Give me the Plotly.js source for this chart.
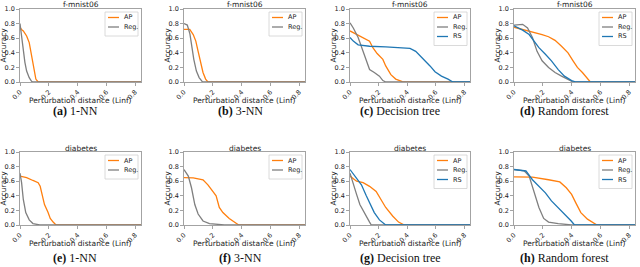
<!DOCTYPE html>
<html><head><meta charset="utf-8">
<script src="https://cdn.plot.ly/plotly-3.0.1.min.js"></script>
<style>html,body{margin:0;padding:0;background:#fff}#chart{width:640px;height:267px}</style>
</head><body><div id="chart"></div>
<script>
// ---- data ----
const xTicks = [0, 0.2, 0.4, 0.6, 0.8];
const xTickLabels = ['0.0', '0.2', '0.4', '0.6', '0.8'];
const yTicks = [0, 0.2, 0.4, 0.6, 0.8, 1.0];
const yTickLabels = ['0.0', '0.2', '0.4', '0.6', '0.8', '1.0'];
const datasets = ['f-mnist06', 'f-mnist06', 'f-mnist06', 'f-mnist06', 'diabetes', 'diabetes', 'diabetes', 'diabetes'];
const captions = ['(a)|1-NN', '(b)|3-NN', '(c)|Decision tree', '(d)|Random forest', '(e)|1-NN', '(f)|3-NN', '(g)|Decision tree', '(h)|Random forest'];
const seriesNames = ['AP', 'Reg.', 'RS'];

const fm_1nn_ap_x = [0, 0.01, 0.023, 0.046, 0.064, 0.08, 0.091, 0.11, 0.126, 0.84];
const fm_1nn_ap_y = [0.75, 0.72, 0.70, 0.63, 0.54, 0.38, 0.22, 0.04, 0, 0];
const fm_1nn_reg_x = [0, 0.011, 0.023, 0.034, 0.046, 0.064, 0.08, 0.091, 0.84];
const fm_1nn_reg_y = [0.80, 0.60, 0.42, 0.27, 0.15, 0.06, 0.01, 0, 0];

const fm_3nn_ap_x = [0, 0.04, 0.064, 0.082, 0.098, 0.114, 0.132, 0.15, 0.166, 0.84];
const fm_3nn_ap_y = [0.72, 0.72, 0.65, 0.56, 0.42, 0.29, 0.13, 0.04, 0, 0];
const fm_3nn_reg_x = [0, 0.023, 0.041, 0.055, 0.068, 0.086, 0.105, 0.127, 0.14, 0.84];
const fm_3nn_reg_y = [0.80, 0.78, 0.66, 0.47, 0.31, 0.15, 0.06, 0.005, 0, 0];

const fm_dt_ap_x = [0, 0.046, 0.092, 0.137, 0.16, 0.19, 0.23, 0.25, 0.286, 0.32, 0.366, 0.4, 0.84];
const fm_dt_ap_y = [0.70, 0.65, 0.61, 0.56, 0.47, 0.39, 0.31, 0.22, 0.10, 0.04, 0.005, 0, 0];
const fm_dt_reg_x = [0, 0.023, 0.057, 0.092, 0.114, 0.137, 0.17, 0.206, 0.23, 0.25, 0.84];
const fm_dt_reg_y = [0.81, 0.74, 0.61, 0.42, 0.29, 0.17, 0.13, 0.08, 0.02, 0, 0];
const fm_dt_rs_x = [0, 0.023, 0.057, 0.137, 0.25, 0.34, 0.42, 0.46, 0.49, 0.53, 0.56, 0.595, 0.64, 0.686, 0.72, 0.84];
const fm_dt_rs_y = [0.61, 0.56, 0.51, 0.49, 0.48, 0.47, 0.46, 0.42, 0.36, 0.29, 0.22, 0.14, 0.08, 0.04, 0, 0];

const fm_rf_ap_x = [0, 0.06, 0.128, 0.195, 0.24, 0.285, 0.33, 0.375, 0.41, 0.44, 0.475, 0.51, 0.53, 0.84];
const fm_rf_ap_y = [0.75, 0.72, 0.69, 0.65, 0.62, 0.57, 0.49, 0.40, 0.29, 0.20, 0.13, 0.05, 0, 0];
const fm_rf_reg_x = [0, 0.06, 0.094, 0.128, 0.16, 0.195, 0.24, 0.285, 0.33, 0.375, 0.41, 0.84];
const fm_rf_reg_y = [0.78, 0.79, 0.74, 0.61, 0.42, 0.29, 0.20, 0.13, 0.08, 0.03, 0, 0];
const fm_rf_rs_x = [0, 0.06, 0.105, 0.14, 0.173, 0.218, 0.26, 0.307, 0.35, 0.40, 0.43, 0.84];
const fm_rf_rs_y = [0.77, 0.71, 0.65, 0.56, 0.47, 0.38, 0.29, 0.17, 0.08, 0.02, 0, 0];

const db_1nn_ap_x = [0, 0.046, 0.09, 0.126, 0.14, 0.155, 0.17, 0.195, 0.21, 0.23, 0.25, 0.84];
const db_1nn_ap_y = [0.67, 0.65, 0.61, 0.58, 0.53, 0.42, 0.28, 0.17, 0.09, 0.04, 0, 0];
const db_1nn_reg_x = [0, 0.011, 0.023, 0.04, 0.064, 0.09, 0.137, 0.84];
const db_1nn_reg_y = [0.71, 0.58, 0.35, 0.17, 0.07, 0.02, 0, 0];

const db_3nn_ap_x = [0, 0.064, 0.132, 0.166, 0.2, 0.223, 0.245, 0.27, 0.314, 0.36, 0.38, 0.84];
const db_3nn_ap_y = [0.65, 0.645, 0.62, 0.55, 0.46, 0.40, 0.24, 0.17, 0.09, 0.03, 0, 0];
const db_3nn_reg_x = [0, 0.03, 0.052, 0.075, 0.098, 0.132, 0.177, 0.22, 0.27, 0.28, 0.84];
const db_3nn_reg_y = [0.76, 0.67, 0.51, 0.28, 0.15, 0.055, 0.02, 0.01, 0.005, 0, 0];

const db_dt_ap_x = [0, 0.046, 0.092, 0.137, 0.183, 0.217, 0.25, 0.3, 0.34, 0.38, 0.84];
const db_dt_ap_y = [0.67, 0.60, 0.58, 0.53, 0.46, 0.35, 0.24, 0.12, 0.04, 0, 0];
const db_dt_reg_x = [0, 0.023, 0.046, 0.069, 0.103, 0.137, 0.149, 0.84];
const db_dt_reg_y = [0.71, 0.58, 0.42, 0.28, 0.15, 0.04, 0, 0];
const db_dt_rs_x = [0, 0.046, 0.08, 0.114, 0.137, 0.17, 0.206, 0.25, 0.84];
const db_dt_rs_y = [0.76, 0.645, 0.55, 0.40, 0.30, 0.17, 0.07, 0, 0];

const db_rf_ap_x = [0, 0.128, 0.24, 0.318, 0.363, 0.40, 0.43, 0.464, 0.51, 0.554, 0.576, 0.84];
const db_rf_ap_y = [0.66, 0.655, 0.62, 0.59, 0.51, 0.42, 0.30, 0.17, 0.08, 0.02, 0, 0];
const db_rf_reg_x = [0, 0.072, 0.105, 0.139, 0.173, 0.206, 0.24, 0.307, 0.374, 0.40, 0.84];
const db_rf_reg_y = [0.76, 0.74, 0.67, 0.46, 0.24, 0.09, 0.04, 0.02, 0.005, 0, 0];
const db_rf_rs_x = [0, 0.083, 0.128, 0.173, 0.218, 0.26, 0.307, 0.35, 0.397, 0.42, 0.84];
const db_rf_rs_y = [0.76, 0.74, 0.62, 0.53, 0.44, 0.33, 0.24, 0.15, 0.055, 0, 0];

// ---- assembly ----
const panelSeries = [
  [[fm_1nn_ap_x, fm_1nn_ap_y], [fm_1nn_reg_x, fm_1nn_reg_y]],
  [[fm_3nn_ap_x, fm_3nn_ap_y], [fm_3nn_reg_x, fm_3nn_reg_y]],
  [[fm_dt_ap_x, fm_dt_ap_y], [fm_dt_reg_x, fm_dt_reg_y], [fm_dt_rs_x, fm_dt_rs_y]],
  [[fm_rf_ap_x, fm_rf_ap_y], [fm_rf_reg_x, fm_rf_reg_y], [fm_rf_rs_x, fm_rf_rs_y]],
  [[db_1nn_ap_x, db_1nn_ap_y], [db_1nn_reg_x, db_1nn_reg_y]],
  [[db_3nn_ap_x, db_3nn_ap_y], [db_3nn_reg_x, db_3nn_reg_y]],
  [[db_dt_ap_x, db_dt_ap_y], [db_dt_reg_x, db_dt_reg_y], [db_dt_rs_x, db_dt_rs_y]],
  [[db_rf_ap_x, db_rf_ap_y], [db_rf_reg_x, db_rf_reg_y], [db_rf_rs_x, db_rf_rs_y]]
];
const colors = ['#ff7f0e', '#7f7f7f', '#1f77b4'];
const W = 640, H = 267;
const colPx = [[20, 141], [184, 305], [350, 470], [514, 635]];
const rowPx = [[9, 82], [152, 225]];
const capXPx = [75, 240, 400, 564];
const capYPx = [111, 258];
const sans = 'DejaVu Sans, sans-serif';
const serif = 'Liberation Serif, DejaVu Serif, serif';
const lineCol = '#8c8c8c';

const traces = [], shapes = [], annotations = [];
const layout = {
  width: W, height: H, margin: {l: 0, r: 0, t: 0, b: 0},
  paper_bgcolor: '#fff', plot_bgcolor: '#fff', showlegend: false,
  font: {family: sans, color: '#222'}
};

for (let i = 0; i < 8; i++) {
  const r = Math.floor(i / 4), c = i % 4, n = i + 1;
  const xa = 'xaxis' + (n === 1 ? '' : n), ya = 'yaxis' + (n === 1 ? '' : n);
  const xr = 'x' + (n === 1 ? '' : n), yr = 'y' + (n === 1 ? '' : n);
  const pw = colPx[c][1] - colPx[c][0], ph = rowPx[r][1] - rowPx[r][0];
  const common = {showline: true, mirror: true, linecolor: lineCol, linewidth: 0.8,
    ticks: 'outside', ticklen: 3, tickwidth: 0.8, tickcolor: lineCol,
    showgrid: false, zeroline: false, fixedrange: true,
    tickfont: {size: 6.5, family: sans, color: '#222'}};
  layout[xa] = Object.assign({}, common, {
    domain: [colPx[c][0] / W, colPx[c][1] / W], anchor: yr,
    range: [0, 0.84], tickvals: xTicks, ticktext: xTickLabels, tickangle: -45});
  layout[ya] = Object.assign({}, common, {
    domain: [1 - rowPx[r][1] / H, 1 - rowPx[r][0] / H], anchor: xr,
    range: [0, 1], tickvals: yTicks, ticktext: yTickLabels});

  panelSeries[i].forEach((s, k) => {
    traces.push({x: s[0], y: s[1], xaxis: xr, yaxis: yr, type: 'scatter', mode: 'lines',
      name: seriesNames[k], line: {color: colors[k], width: 1.3}, hoverinfo: 'skip'});
  });

  const xd = xr + ' domain', yd = yr + ' domain';
  // subplot title
  annotations.push({xref: xd, yref: yd, x: 0.5, y: 1, yanchor: 'middle', xanchor: 'center',
    yshift: 4, borderpad: 0, showarrow: false, text: datasets[i], font: {size: 7.5, family: sans, color: '#222'}});
  // axis titles
  annotations.push({xref: xd, yref: yd, x: 0.5, y: 0, yanchor: 'middle', xanchor: 'center',
    yshift: -18, borderpad: 0, showarrow: false, text: 'Perturbation distance (Linf)', font: {size: 7.5, family: sans, color: '#222'}});
  annotations.push({xref: xd, yref: yd, x: 0, y: 0.5, yanchor: 'middle', xanchor: 'center',
    xshift: -17, textangle: -90, borderpad: 0, showarrow: false, text: 'Accuracy', font: {size: 7.5, family: sans, color: '#222'}});
  // caption
  const cp = captions[i].split('|');
  annotations.push({xref: 'paper', yref: 'paper', x: capXPx[c] / W, y: 1 - capYPx[r] / H,
    xanchor: 'center', yanchor: 'middle', borderpad: 0, showarrow: false,
    text: '<b>' + cp[0] + '</b> ' + cp[1], font: {size: 12, family: serif, color: '#111'}});

  // legend box (custom, matplotlib-like)
  const nItems = panelSeries[i].length;
  const boxW = 33, boxH = 5 + 9.5 * nItems;
  const bx1 = pw - 3, bx0 = bx1 - boxW, by0 = 3, by1 = by0 + boxH;
  const fx = v => v / pw, fy = v => 1 - v / ph;
  shapes.push({type: 'rect', xref: xd, yref: yd, x0: fx(bx0), x1: fx(bx1), y0: fy(by0), y1: fy(by1),
    line: {color: '#d0d0d0', width: 0.8}, fillcolor: 'rgba(255,255,255,0.85)', layer: 'above'});
  for (let k = 0; k < nItems; k++) {
    const yc = by0 + 5.5 + 9.5 * k;
    shapes.push({type: 'line', xref: xd, yref: yd, x0: fx(bx0 + 3), x1: fx(bx0 + 14), y0: fy(yc), y1: fy(yc),
      line: {color: colors[k], width: 1.3}, layer: 'above'});
    annotations.push({xref: xd, yref: yd, x: fx(bx0 + 18), y: fy(yc), xanchor: 'left', yanchor: 'middle',
      borderpad: 0, showarrow: false, text: seriesNames[k], font: {size: 6.5, family: sans, color: '#222'}});
  }
}
layout.shapes = shapes;
layout.annotations = annotations;
Plotly.newPlot('chart', traces, layout, {staticPlot: true, displayModeBar: false});
</script></body></html>
